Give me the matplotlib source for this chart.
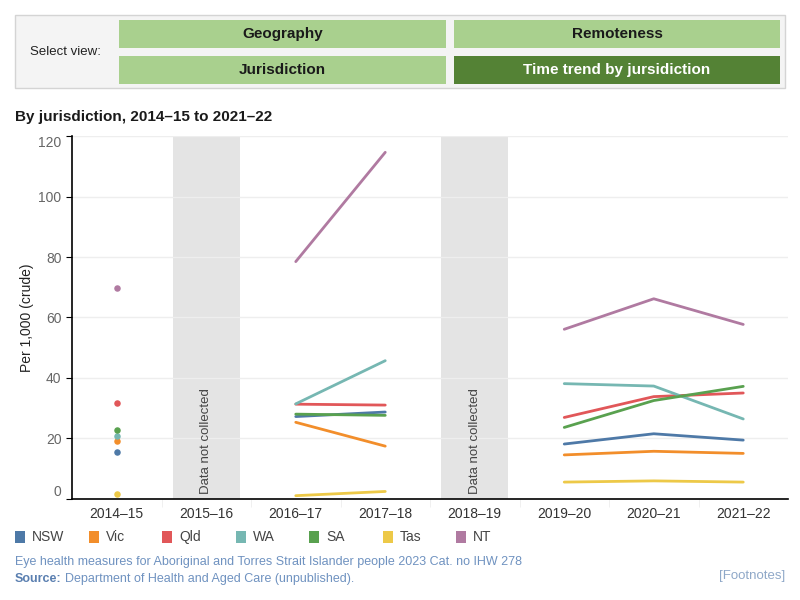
import numpy as np
import matplotlib.pyplot as plt
from matplotlib.patches import Rectangle

plt.rcParams['font.family'] = ['Liberation Sans', 'DejaVu Sans']

years = ["2014–15", "2015–16", "2016–17", "2017–18", "2018–19", "2019–20", "2020–21", "2021–22"]
not_collected = ["2015–16", "2018–19"]
nan = np.nan

# per 1,000 (crude), NaN where data not collected
nsw = [15.6, nan, 27.2, 28.7, nan, 18.1, 21.5, 19.4]
vic = [19.1, nan, 25.3, 17.4, nan, 14.5, 15.7, 15.0]
qld = [31.7, nan, 31.3, 31.0, nan, 26.9, 33.8, 35.0]
wa = [20.8, nan, 31.4, 45.7, nan, 38.1, 37.3, 26.4]
sa = [22.8, nan, 28.0, 27.6, nan, 23.6, 32.5, 37.2]
tas = [1.7, nan, 1.0, 2.4, nan, 5.5, 5.9, 5.5]
nt = [69.7, nan, 78.5, 114.7, nan, 56.1, 66.2, 57.7]

series = [("NSW", nsw, "#4e79a7"), ("Vic", vic, "#f28e2b"), ("Qld", qld, "#e15759"),
          ("WA", wa, "#76b7b2"), ("SA", sa, "#59a14f"), ("Tas", tas, "#edc948"),
          ("NT", nt, "#b07aa1")]

fig = plt.figure(figsize=(8, 6), dpi=100)

# ------------------------------------------
# Header: view selector
# ------------------------------------------
W, H = 800, 600
def box(x0, y0, x1, y1, fc, ec="none", lw=0):
    fig.patches.append(Rectangle((x0 / W, 1 - y1 / H), (x1 - x0) / W, (y1 - y0) / H,
                                 transform=fig.transFigure, facecolor=fc,
                                 edgecolor=ec, linewidth=lw))

box(15, 15, 785, 88, "#f4f4f4", "#d4d4d4", 1)
buttons = [("Geography", 119, 20, 446, 48, "#a9d08e", "#1a1a1a"),
           ("Remoteness", 454, 20, 780, 48, "#a9d08e", "#1a1a1a"),
           ("Jurisdiction", 119, 56, 446, 84, "#a9d08e", "#1a1a1a"),
           ("Time trend by jursidiction", 454, 56, 780, 84, "#548235", "white")]
for label, x0, y0, x1, y1, fc, tc in buttons:
    box(x0, y0, x1, y1, fc)
    fig.text((x0 + x1) / 2 / W, 1 - (y0 + y1) / 2 / H, label, ha="center", va="center",
             fontsize=11, fontweight="bold", color=tc)
fig.text(65 / W, 1 - 52 / H, "Select view:", ha="center", va="center", fontsize=9.5, color="#222222")

fig.text(15 / W, 1 - 117 / H, "By jurisdiction, 2014–15 to 2021–22", ha="left", va="center",
         fontsize=11, fontweight="bold", color="#1a1a1a")

# ------------------------------------------
# Main chart
# ------------------------------------------
ax = fig.add_axes([72 / W, 1 - 498.7 / H, (788 - 72) / W, (498.7 - 136.3) / H])
x = np.arange(len(years))

for yr in not_collected:
    i = years.index(yr)
    ax.axvspan(i - 0.375, i + 0.375, color="#e4e4e4", zorder=0, lw=0)
    ax.text(i, 1.5, "Data not collected", rotation=90, ha="center", va="bottom",
            fontsize=9.5, color="#444444")

for name, vals, col in series:
    ax.plot(x, vals, color=col, lw=2.0, solid_capstyle="round", zorder=3)
    ax.scatter(x[0], vals[0], color=col, s=22, zorder=4, linewidths=0)

ax.set_xlim(-0.5, len(years) - 0.5)
ax.set_ylim(0, 120)
ax.set_yticks(range(0, 121, 20))
ax.set_yticklabels([str(v) for v in range(0, 121, 20)])
for lab, v in zip(ax.get_yticklabels(), range(0, 121, 20)):
    if v == 0:
        lab.set_va("bottom")
    elif v == 120:
        lab.set_va("top")
ax.tick_params(axis="y", length=4, labelcolor="#666666", labelsize=10, width=0.8, color="black")
ax.set_xticks(x)
ax.set_xticklabels(years)
ax.tick_params(axis="x", length=0, labelsize=10, labelcolor="#333333", pad=6)
ax.set_xticks(np.arange(0.5, len(years) - 1, 1), minor=True)
ax.tick_params(axis="x", which="minor", length=6, color="#eeeeee")
ax.grid(axis="y", color="#eeeeee", lw=1)
ax.set_axisbelow(True)
for s in ["top", "right"]:
    ax.spines[s].set_visible(False)
ax.spines["left"].set_linewidth(1.2)
ax.spines["bottom"].set_linewidth(1.2)
ax.set_ylabel("Per 1,000 (crude)", fontsize=10, color="#222222")
ax.yaxis.set_label_coords(-38 / 716, 0.5)

# ------------------------------------------
# Legend
# ------------------------------------------
for k, (name, vals, col) in enumerate(series):
    lx = 15 + k * 73.5
    box(lx, 531, lx + 10, 543, col)
    fig.text((lx + 17) / W, 1 - 537 / H, name, ha="left", va="center", fontsize=10, color="#444444")

# ------------------------------------------
# Footer
# ------------------------------------------
fig.text(15 / W, 1 - 562 / H,
         "Eye health measures for Aboriginal and Torres Strait Islander people 2023 Cat. no IHW 278",
         ha="left", va="center", fontsize=9, color="#6f92c0")
src = fig.text(15 / W, 1 - 579 / H, "Source:", ha="left", va="center", fontsize=9,
               fontweight="bold", color="#5a7fb0")
fig.canvas.draw()
src_right = src.get_window_extent().x1
fig.text((src_right + 3) / W, 1 - 579 / H, "Department of Health and Aged Care (unpublished).",
         ha="left", va="center", fontsize=9, color="#6f92c0")
fig.text(785 / W, 1 - 576 / H, "[Footnotes]", ha="right", va="center", fontsize=9.5, color="#8fa8c8")

fig.savefig("out.png", dpi=100)
